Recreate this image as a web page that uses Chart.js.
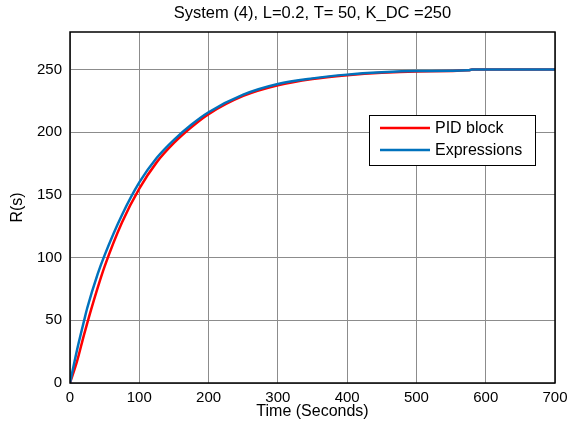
<!DOCTYPE html>
<html>
<head>
    <title>System (4) step response</title>
    <script src="https://cdn.jsdelivr.net/npm/chart.js"></script>
    <style>
        body { margin: 0; background: #ffffff; }
        #wrap { width: 569px; height: 428px; position: relative; }
    </style>
</head>
<body>
    <div id="wrap"><canvas id="chart1" width="569" height="428"></canvas></div>
    <script>
        // values
        const times = [0, 10, 20, 25, 40, 50, 75, 100, 125, 150, 175, 200, 250, 300, 350, 400, 450, 500, 575, 580, 700];
        const pidBlock = [0, 17, 38, 48, 76, 93, 128, 155, 176, 191.5, 204, 214.5, 229, 237.5, 242.5, 245.5, 247.5, 248.5, 249.4, 250, 250];
        const expressions = [0, 26, 49, 60, 87, 102, 134, 160, 179.5, 194, 206, 216, 230, 238.5, 243, 246, 247.8, 248.8, 249.4, 250, 250];
        const xTicks = [0, 100, 200, 300, 400, 500, 600, 700];
        const yTicks = [0, 50, 100, 150, 200, 250];
        const titleText = 'System (4), L=0.2, T= 50, K_DC =250';
        const xTitle = 'Time (Seconds)';
        const yTitle = 'R(s)';
        const seriesNames = ['PID block', 'Expressions'];

        Chart.defaults.font.family = '"Liberation Sans", Arial, sans-serif';
        Chart.defaults.color = '#000';

        const toPoints = (ys) => times.map((t, i) => ({ x: t, y: ys[i] }));

        // frame, titles and the boxed legend inside the axes
        const matlabLook = {
            id: 'matlabLook',
            afterDatasetsDraw(chart) {
                const ctx = chart.ctx;
                const a = chart.chartArea;
                ctx.save();
                // axes box
                ctx.strokeStyle = '#000';
                ctx.lineWidth = 1.5;
                ctx.strokeRect(a.left, a.top, a.right - a.left, a.bottom - a.top);

                // legend
                const bx = a.right - 186, by = a.top + 83, bw = 166, bh = 50;
                ctx.fillStyle = '#fff';
                ctx.fillRect(bx, by, bw, bh);
                ctx.lineWidth = 1;
                ctx.strokeRect(bx + 0.5, by + 0.5, bw, bh);
                const cols = ['#ff0000', '#0072bd'];
                ctx.font = '16px "Liberation Sans", Arial, sans-serif';
                ctx.textBaseline = 'middle';
                ctx.textAlign = 'left';
                seriesNames.forEach((name, i) => {
                    const y = by + 13 + i * 22;
                    ctx.strokeStyle = cols[i];
                    ctx.lineWidth = 2.5;
                    ctx.beginPath();
                    ctx.moveTo(bx + 11, y);
                    ctx.lineTo(bx + 61, y);
                    ctx.stroke();
                    ctx.fillStyle = '#000';
                    ctx.fillText(name, bx + 66, y + 1);
                });

                // title and axis titles
                ctx.fillStyle = '#000';
                ctx.textAlign = 'center';
                ctx.font = '16.5px "Liberation Sans", Arial, sans-serif';
                ctx.fillText(titleText, (a.left + a.right) / 2, 13);
                ctx.font = '16px "Liberation Sans", Arial, sans-serif';
                ctx.fillText(xTitle, (a.left + a.right) / 2, 412);
                ctx.translate(18, (a.top + a.bottom) / 2);
                ctx.rotate(-Math.PI / 2);
                ctx.fillText(yTitle, 0, 0);
                ctx.restore();
            }
        };

        const ctx1 = document.getElementById('chart1').getContext('2d');
        const chart1 = new Chart(ctx1, {
            type: 'line',
            data: {
                datasets: [{
                    label: seriesNames[0],
                    data: toPoints(pidBlock),
                    borderColor: '#ff0000',
                    borderWidth: 2.5,
                    pointRadius: 0,
                    order: 1,
                    cubicInterpolationMode: 'monotone'
                }, {
                    label: seriesNames[1],
                    data: toPoints(expressions),
                    borderColor: '#0072bd',
                    borderWidth: 2.5,
                    pointRadius: 0,
                    order: 0,
                    cubicInterpolationMode: 'monotone'
                }]
            },
            options: {
                responsive: false,
                animation: false,
                layout: { padding: { top: 32, right: 14, left: 0, bottom: 0 } },
                scales: {
                    x: {
                        type: 'linear',
                        min: 0,
                        max: 700,
                        afterBuildTicks: (s) => { s.ticks = xTicks.map(v => ({ value: v })); },
                        afterFit: (s) => { s.height = 45; s.paddingLeft = 0; s.paddingRight = 0; },
                        grid: { color: '#8c8c8c', lineWidth: 1, drawTicks: false },
                        border: { display: false },
                        ticks: { font: { size: 15 }, padding: 6, maxRotation: 0 }
                    },
                    y: {
                        min: 0,
                        max: 280,
                        afterBuildTicks: (s) => { s.ticks = yTicks.map(v => ({ value: v })); },
                        afterFit: (s) => { s.width = 70; },
                        grid: { color: '#8c8c8c', lineWidth: 1, drawTicks: false },
                        border: { display: false },
                        ticks: { font: { size: 15 }, padding: 8 }
                    }
                },
                plugins: {
                    legend: { display: false },
                    tooltip: { enabled: false }
                }
            },
            plugins: [matlabLook]
        });
    </script>
</body>
</html>
